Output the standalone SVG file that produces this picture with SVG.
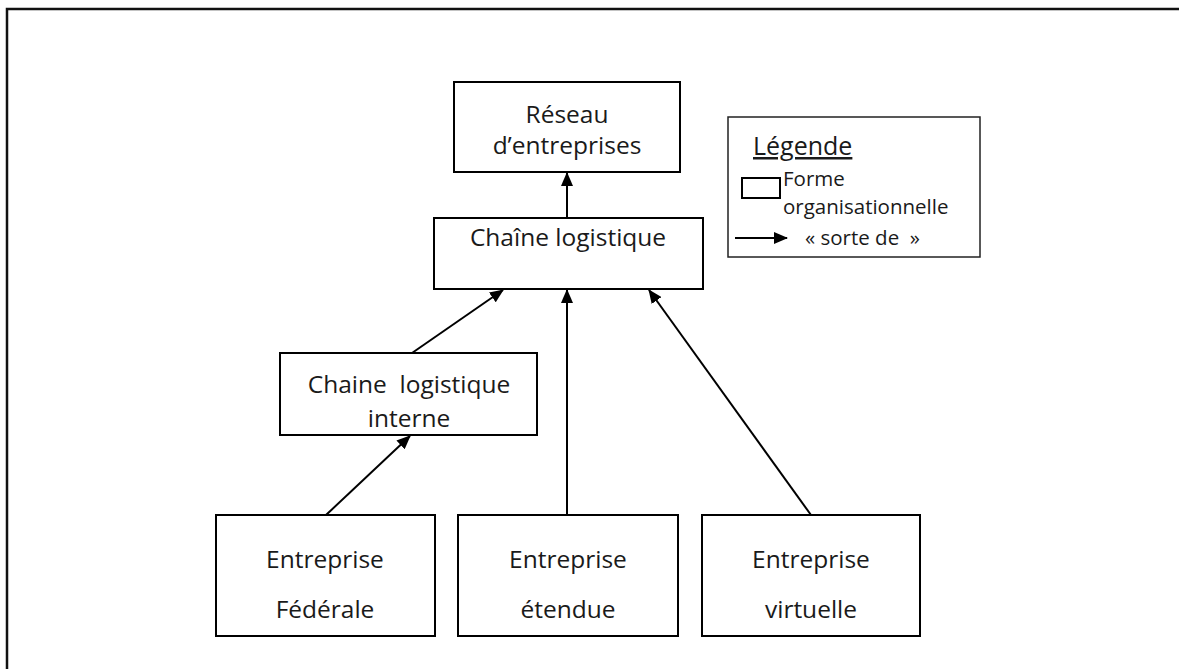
<svg xmlns="http://www.w3.org/2000/svg" width="1179" height="669" viewBox="0 0 1179 669">
<defs>
<style>
.box{fill:#fff;stroke:#000;stroke-width:2}
.t{font-family:"Open Sans","Noto Sans","Liberation Sans",sans-serif;font-size:24.5px;fill:#1a1a1a;text-anchor:middle}
.s{font-family:"Open Sans","Noto Sans","Liberation Sans",sans-serif;font-size:20.5px;fill:#1a1a1a}
.c{stroke:#000;stroke-width:2;fill:none;marker-end:url(#ah)}
</style>
<marker id="ah" viewBox="0 0 14 12" refX="13" refY="6" markerWidth="14" markerHeight="12" markerUnits="userSpaceOnUse" orient="auto">
<path d="M0,0 L14,6 L0,12 Z" fill="#000"/>
</marker>
</defs>
<rect width="1179" height="669" fill="#fff"/>
<path d="M7,669 V9 H1179" fill="none" stroke="#111" stroke-width="2.5"/>
<g id="connectors">
<line class="c" x1="567" y1="218" x2="567" y2="173"/>
<line class="c" x1="412" y1="353" x2="503" y2="290"/>
<line class="c" x1="326" y1="515" x2="410" y2="436"/>
<line class="c" x1="567" y1="515" x2="567" y2="290"/>
<line class="c" x1="811" y1="515" x2="649" y2="290"/>
</g>
<g id="reseau">
<rect class="box" x="454" y="82" width="226" height="90"/>
<text class="t" x="567" y="123">Réseau</text>
<text class="t" x="567" y="154">d’entreprises</text>
</g>
<g id="chaine">
<rect class="box" x="434" y="218" width="269" height="71"/>
<text class="t" x="568" y="246">Chaîne logistique</text>
</g>
<g id="interne">
<rect class="box" x="280" y="353" width="257" height="82"/>
<text class="t" x="409" y="393" xml:space="preserve">Chaine  logistique</text>
<text class="t" x="409" y="427">interne</text>
</g>
<g id="federale">
<rect class="box" x="216" y="515" width="219" height="121"/>
<text class="t" x="325" y="568">Entreprise</text>
<text class="t" x="325" y="618">Fédérale</text>
</g>
<g id="etendue">
<rect class="box" x="458" y="515" width="220" height="121"/>
<text class="t" x="568" y="568">Entreprise</text>
<text class="t" x="568" y="618">étendue</text>
</g>
<g id="virtuelle">
<rect class="box" x="702" y="515" width="218" height="121"/>
<text class="t" x="811" y="568">Entreprise</text>
<text class="t" x="811" y="618">virtuelle</text>
</g>
<g id="legende">
<rect x="728" y="117" width="252" height="140" fill="#fff" stroke="#222" stroke-width="1.5"/>
<text x="753" y="155" font-family="'Open Sans','Noto Sans',sans-serif" font-size="25" fill="#1a1a1a" text-decoration="underline">Légende</text>
<rect x="742" y="178" width="38" height="20" fill="#fff" stroke="#000" stroke-width="2"/>
<text class="s" x="783" y="186">Forme</text>
<text class="s" x="783" y="214">organisationnelle</text>
<line x1="735" y1="238" x2="787" y2="238" stroke="#000" stroke-width="2" marker-end="url(#ah)"/>
<text class="s" x="805" y="245" xml:space="preserve">« sorte de  »</text>
</g>
</svg>
